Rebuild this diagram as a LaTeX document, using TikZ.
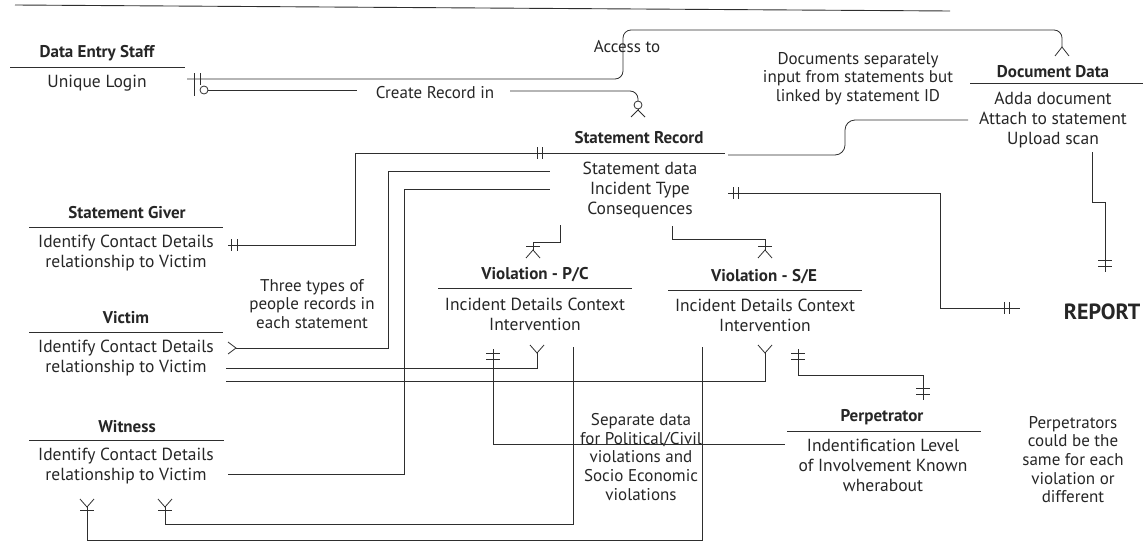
\documentclass[tikz,border=0pt]{standalone}
\usepackage{fontspec}
\setmainfont{PT Sans}
\definecolor{txt}{HTML}{262626}
\definecolor{ln}{HTML}{2E2E2E}
\begin{document}
\begin{tikzpicture}[x=1pt,y=-1pt,
  ttl/.style={font=\fontsize{17}{19}\selectfont\bfseries, inner sep=0pt, text=txt},
  bdy/.style={font=\fontsize{17.5}{20}\selectfont, align=center, inner sep=0pt, text=txt},
  note/.style={font=\fontsize{17}{18.7}\selectfont, align=center, inner sep=0pt, text=txt},
  conn/.style={draw=ln, line width=0.8pt},
  uline/.style={draw=ln, line width=0.9pt},
  tick/.style={draw=ln, line width=0.8pt}]
\useasboundingbox (0,0) rectangle (1147,543);

% top rule
\draw[uline] (15,5) -- (950,11);

% ---------- entities ----------
\node[ttl] (desT) at (97,53) {Data Entry Staff};
\draw[uline] (10,67) -- (185,67);
\node[bdy] (desB) at (97,83) {Unique Login};

\node[ttl] (srT) at (639,138) {Statement Record};
\draw[uline] (552,153) -- (725,153);
\node[bdy] (srB) at (640,190) {Statement data\\Incident Type\\Consequences};

\node[ttl] (ddT) at (1053,72) {Document Data};
\draw[uline] (970,83) -- (1143,83);
\node[bdy] (ddB) at (1053,120) {Adda document\\Attach to statement\\Upload scan};

\node[ttl] (sgT) at (127,213) {Statement Giver};
\draw[uline] (29,227) -- (223,227);
\node[bdy] (sgB) at (126,253.5) {Identify Contact Details\\relationship to Victim};

\node[ttl] (vT) at (126,318) {Victim};
\draw[uline] (29,332) -- (223,332);
\node[bdy] (vB) at (126,358) {Identify Contact Details\\relationship to Victim};

\node[ttl] (wT) at (127,427) {Witness};
\draw[uline] (29,440) -- (224,440);
\node[bdy] (wB) at (126,466.5) {Identify Contact Details\\relationship to Victim};

\node[ttl] (pcT) at (535,275) {Violation - P/C};
\draw[uline] (438,288) -- (632,288);
\node[bdy] (pcB) at (535,314.5) {Incident Details Context\\Intervention};

\node[ttl] (seT) at (764,277) {Violation - S/E};
\draw[uline] (668,290) -- (862,290);
\node[bdy] (seB) at (765,315) {Incident Details Context\\Intervention};

\node[ttl] (peT) at (882,417) {Perpetrator};
\draw[uline] (787,431) -- (981,431);
\node[bdy] (peB) at (883,465) {Indentification Level\\of Involvement Known\\wherabout};

\node[font=\fontsize{22}{24}\selectfont\bfseries, inner sep=0pt, text=txt] (rep) at (1102,312) {REPORT};

% ---------- notes ----------
\node[note] (nAcc) at (627,47) {Access to};
\node[note] (nCre) at (435,93) {Create Record in};
\node[note] (nDoc) at (858,78.5) {Documents separately\\input from statements but\\linked by statement ID};
\node[note] (nThr) at (312,304) {Three types of\\people records in\\each statement};
\node[note] (nSep) at (641,457) {Separate data\\for Political/Civil\\violations and\\Socio Economic\\violations};
\node[note] (nPer) at (1073,459.5) {Perpetrators\\could be the\\same for each\\violation or\\different};

% ---------- connectors ----------
% Data Entry Staff -> Document Data (Access to)
\coordinate (accA) at (187,79);
\coordinate (accB) at (1062,47);
\draw[conn, rounded corners=8pt] (accA) -- (623,79) -- (623,30) -- (1062,30) -- (accB);
\draw[tick] (194,73) -- (194,85) (200,73) -- (200,85);
\draw[tick] (1055,56) -- (accB) -- (1069,56);

% Data Entry Staff -> Statement Record (Create Record in)
\coordinate (creA) at (208,90);
\coordinate (creB) at (638,110);
\draw[conn] (creA) -- (357,90);
\draw[conn, rounded corners=8pt] (510,91) -- (638,91) -- (638,101);
\draw[tick] (194,84) -- (194,96);
\draw[tick] (204,90) circle (4);
\draw[tick] (638,105) circle (4);
\draw[tick] (creB) -- (638,109);
\draw[tick] (631,117) -- (creB) -- (645,117);

% Statement Giver -> Statement Record
\coordinate (sgA) at (228,245);
\coordinate (sgB2) at (552,153);
\draw[conn] (sgA) -- (355,245) -- (355,153) -- (sgB2);
\draw[tick] (231,239) -- (231,251) (237,239) -- (237,251);
\draw[tick] (537,147) -- (537,159) (542,147) -- (542,159);

% Victim -> Statement Record
\coordinate (viA) at (236,348);
\coordinate (viB) at (550,171);
\draw[conn] (viA) -- (388,348) -- (388,171) -- (viB);
\draw[tick] (228,342) -- (viA) -- (228,354);

% Witness -> Statement Record
\coordinate (wiA) at (228,474);
\coordinate (wiB) at (550,189);
\draw[conn] (wiA) -- (404,474) -- (404,189) -- (wiB);

% Statement Record -> Violation P/C
\coordinate (spA) at (560,225);
\coordinate (spB) at (533,250);
\draw[conn] (spA) -- (560,242) -- (533,242) -- (spB);
\draw[tick] (526,246) -- (540,246);
\draw[tick] (526,258) -- (spB) -- (540,258);

% Statement Record -> Violation S/E
\coordinate (ssA) at (672,226);
\coordinate (ssB) at (765,250);
\draw[conn] (ssA) -- (672,239) -- (765,239) -- (ssB);
\draw[tick] (758,246) -- (772,246);
\draw[tick] (758,258) -- (ssB) -- (772,258);

% Statement Record -> Document Data
\coordinate (sdA) at (728,155);
\coordinate (sdB) at (968,120);
\draw[conn, rounded corners=10pt] (sdA) -- (845,155) -- (845,120) -- (sdB);

% Statement Record -> REPORT
\coordinate (srA) at (728,193);
\coordinate (srB) at (1020,308);
\draw[conn] (srA) -- (940,193) -- (940,308) -- (srB);
\draw[tick] (733,187) -- (733,199) (738,187) -- (738,199);
\draw[tick] (1004,302) -- (1004,314) (1009,302) -- (1009,314);

% Document Data -> REPORT
\coordinate (drA) at (1092,152);
\coordinate (drB) at (1105,272);
\draw[conn] (drA) -- (1092,202) -- (1105,202) -- (drB);
\draw[tick] (1098,260) -- (1112,260) (1098,266) -- (1112,266);

% Victim -> Violation P/C
\coordinate (vpA) at (226,368);
\coordinate (vpB) at (537,353);
\draw[conn] (vpA) -- (537,368) -- (vpB);
\draw[tick] (530,345) -- (vpB) -- (544,345);

% Victim -> Violation S/E
\coordinate (vsA) at (226,381);
\coordinate (vsB) at (765,353);
\draw[conn] (vsA) -- (765,381) -- (vsB);
\draw[tick] (758,345) -- (vsB) -- (772,345);

% Violation P/C -> Perpetrator
\coordinate (ppA) at (493,349);
\coordinate (ppB) at (785,444);
\draw[conn] (ppA) -- (493,444) -- (ppB);
\draw[tick] (486,353) -- (500,353) (486,359) -- (500,359);

% Violation S/E -> Perpetrator
\coordinate (spe1) at (798,349);
\coordinate (spe2) at (923,400);
\draw[conn] (spe1) -- (798,375) -- (923,375) -- (spe2);
\draw[tick] (791,353) -- (805,353) (791,359) -- (805,359);
\draw[tick] (916,388) -- (930,388) (916,394) -- (930,394);

% Witness -> Violation P/C
\coordinate (wpA) at (165,507);
\coordinate (wpB) at (573,347);
\draw[conn] (wpA) -- (165,524) -- (573,524) -- (wpB);
\draw[tick] (158,499) -- (wpA) -- (172,499);
\draw[tick] (158,510) -- (172,510);

% Witness -> Violation S/E
\coordinate (wsA) at (87,507);
\coordinate (wsB) at (702,347);
\draw[conn] (wsA) -- (87,540) -- (702,540) -- (wsB);
\draw[tick] (80,499) -- (wsA) -- (94,499);
\draw[tick] (80,510) -- (94,510);
\end{tikzpicture}
\end{document}
